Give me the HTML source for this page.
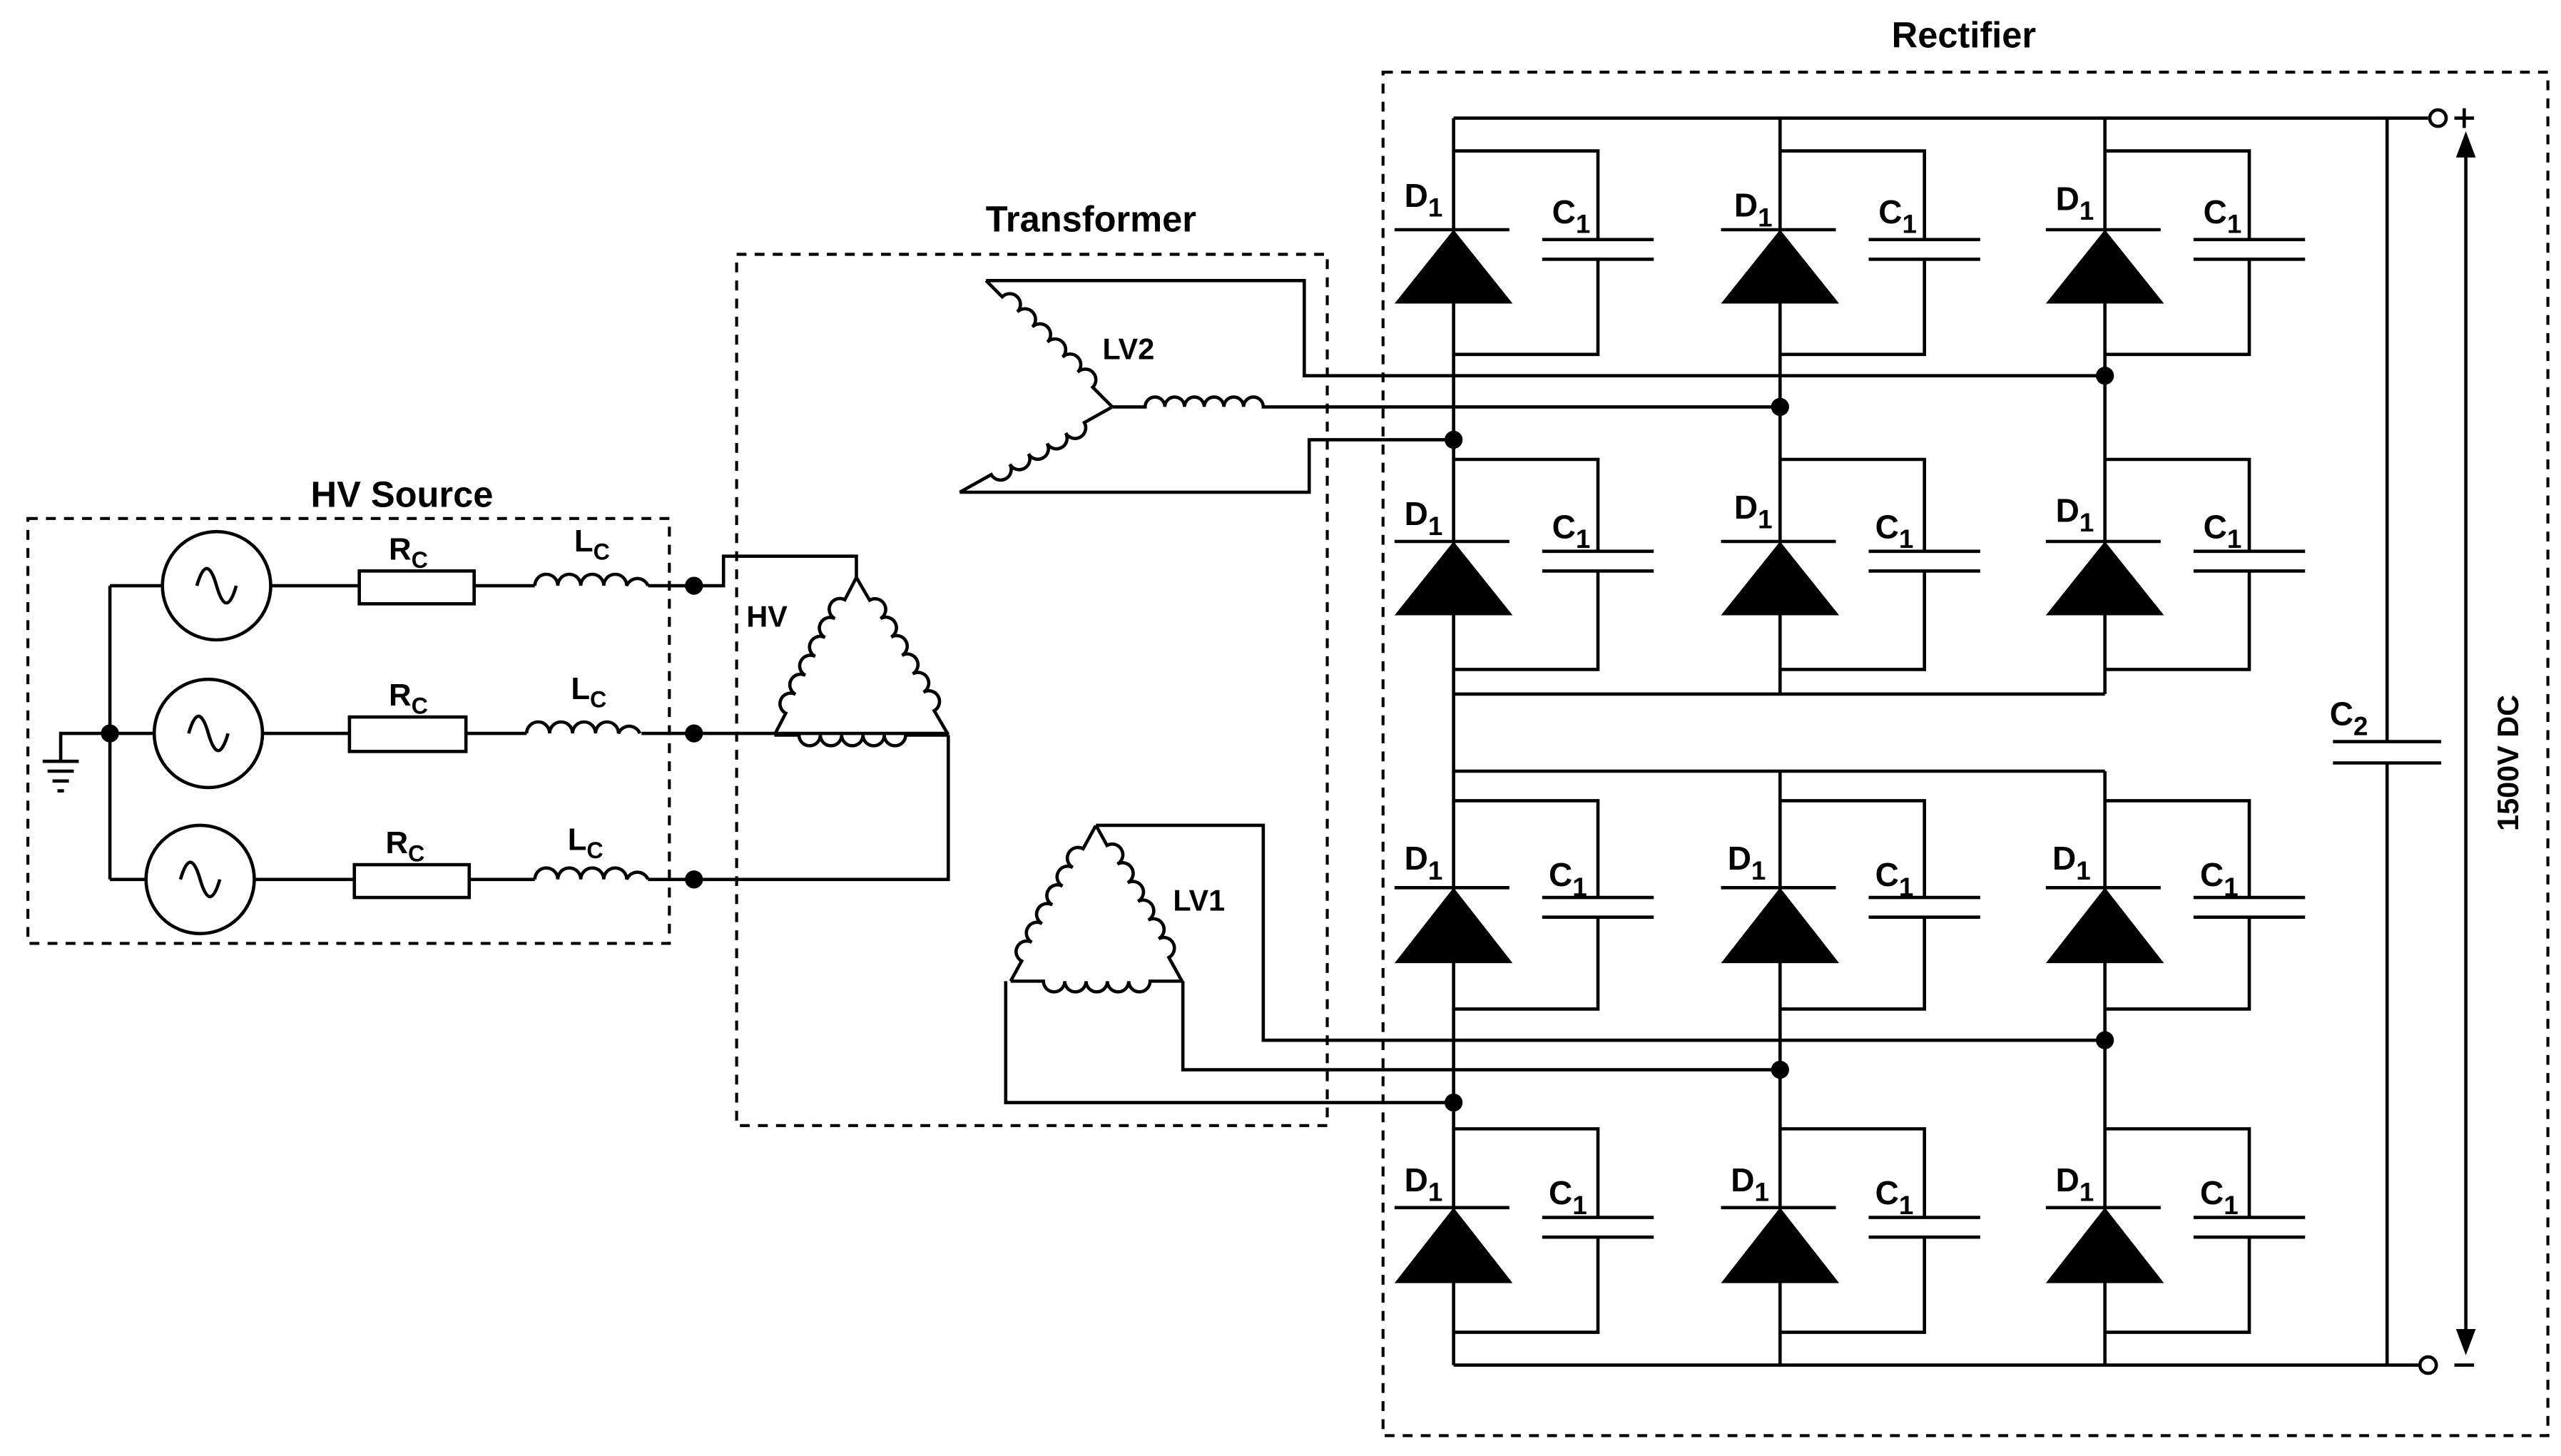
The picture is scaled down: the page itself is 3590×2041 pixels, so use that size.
<!DOCTYPE html>
<html><head><meta charset="utf-8"><style>html,body{margin:0;padding:0;background:#fff}svg{display:block}text{font-family:"Liberation Sans",sans-serif;font-weight:bold;fill:#000}</style></head><body>
<svg width="3590" height="2041" viewBox="0 0 1561 887.4" preserveAspectRatio="none" xmlns="http://www.w3.org/2000/svg">
<g fill="none" stroke="#000" stroke-width="2">
<!-- dashed boxes -->
<g stroke-dasharray="6,5" stroke-width="1.8">
<rect x="17" y="316" width="391" height="259"/>
<rect x="449" y="155" width="360" height="531"/>
<rect x="843" y="44" width="710" height="831"/>
</g>
<!-- HV source -->
<path d="M67 357V536M67 357H99M67 447H94M67 536H89M165 357H219M160 447H213M155 536H216M289 357H326M284 447H321M286 536H326"/>
<path d="M395 357H423M391 447H423M395 536H423"/>
<circle cx="132" cy="357" r="33"/><circle cx="127" cy="447" r="33"/><circle cx="122" cy="536" r="33"/>
<path d="M120 357c4-14 8-14 12 0s8 14 12 0M115 447c4-14 8-14 12 0s8 14 12 0M110 536c4-14 8-14 12 0s8 14 12 0"/>
<rect x="219" y="348" width="70" height="20"/><rect x="213" y="437" width="71" height="21"/><rect x="216" y="527" width="70" height="20"/>
<path d="M326 357a7 7 0 0 1 14 0a7 7 0 0 1 14 0a7 7 0 0 1 14 0a7 7 0 0 1 14 0a7 7 0 0 1 13 0"/>
<path d="M321 447a7 7 0 0 1 14 0a7 7 0 0 1 14 0a7 7 0 0 1 14 0a7 7 0 0 1 14 0a7 7 0 0 1 13 0"/>
<path d="M326 536a7 7 0 0 1 14 0a7 7 0 0 1 14 0a7 7 0 0 1 14 0a7 7 0 0 1 14 0a7 7 0 0 1 13 0"/>
<path d="M67 447H37V464M26 464H48M29 470H45M32 476H42M35 482H39"/>
<!-- HV delta wiring -->
<path d="M423 357H441V339H522V352M423 447H578M578 448V536H423"/>
<g transform="translate(472,448) rotate(-62.5)"><path d="M0 0H15a6.5 6.5 0 0 1 13 0a6.5 6.5 0 0 1 13 0a6.5 6.5 0 0 1 13 0a6.5 6.5 0 0 1 13 0a6.5 6.5 0 0 1 13 0a6.5 6.5 0 0 1 13 0H108"/></g>
<g transform="translate(522,352) rotate(59.7)"><path d="M0 0H16a6.5 6.5 0 0 1 13 0a6.5 6.5 0 0 1 13 0a6.5 6.5 0 0 1 13 0a6.5 6.5 0 0 1 13 0a6.5 6.5 0 0 1 13 0a6.5 6.5 0 0 1 13 0H111"/></g>
<g transform="translate(578,448) rotate(180)"><path d="M0 0H26a6.5 6.5 0 0 1 13 0a6.5 6.5 0 0 1 13 0a6.5 6.5 0 0 1 13 0a6.5 6.5 0 0 1 13 0a6.5 6.5 0 0 1 13 0H106"/></g>
<!-- LV1 delta -->
<g transform="translate(616,598) rotate(-61.3)"><path d="M0 0H14a6.5 6.5 0 0 1 13 0a6.5 6.5 0 0 1 13 0a6.5 6.5 0 0 1 13 0a6.5 6.5 0 0 1 13 0a6.5 6.5 0 0 1 13 0a6.5 6.5 0 0 1 13 0H108"/></g>
<g transform="translate(668,503) rotate(61.1)"><path d="M0 0H14a6.5 6.5 0 0 1 13 0a6.5 6.5 0 0 1 13 0a6.5 6.5 0 0 1 13 0a6.5 6.5 0 0 1 13 0a6.5 6.5 0 0 1 13 0a6.5 6.5 0 0 1 13 0H109"/></g>
<g transform="translate(721,598) rotate(180)"><path d="M0 0H20a6.5 6.5 0 0 1 13 0a6.5 6.5 0 0 1 13 0a6.5 6.5 0 0 1 13 0a6.5 6.5 0 0 1 13 0a6.5 6.5 0 0 1 13 0H105"/></g>
<path d="M668 503H770V634H1283M721 598V652H1085M613 598V672H886"/>
<!-- LV2 star -->
<g transform="translate(601,171) rotate(45)"><path d="M0 0H14a6.5 6.5 0 0 1 13 0a6.5 6.5 0 0 1 13 0a6.5 6.5 0 0 1 13 0a6.5 6.5 0 0 1 13 0a6.5 6.5 0 0 1 13 0a6.5 6.5 0 0 1 13 0H109"/></g>
<g transform="translate(585,300) rotate(-29.2)"><path d="M0 0H22a6.5 6.5 0 0 0 13 0a6.5 6.5 0 0 0 13 0a6.5 6.5 0 0 0 13 0a6.5 6.5 0 0 0 13 0a6.5 6.5 0 0 0 13 0H106"/></g>
<path d="M678 248H698a6 6 0 0 1 12 0a6 6 0 0 1 12 0a6 6 0 0 1 12 0a6 6 0 0 1 12 0a6 6 0 0 1 12 0a6 6 0 0 1 12 0H1085"/>
<path d="M601 171H795V229H1283M585 300H798V268H886"/>
<!-- rectifier rails -->
<path d="M886 72H1480M886 832H1474M886 423H1283M886 470H1283M886 72V832M1085 72V423M1085 470V832M1283 72V423M1283 470V832"/>
<path d="M1455 72V452M1455 465V832M1422 452H1488M1422 465H1488"/>
<path d="M1503 88V818"/>
<circle cx="1486" cy="72" r="5" fill="#fff"/><circle cx="1480" cy="832" r="5" fill="#fff"/>
<path d="M1496 72H1508M1502 66V78M1496 832H1508"/>
</g>
<polygon points="1503,80 1497,96 1509,96"/><polygon points="1503,826 1497,810 1509,810"/>
<!-- dots -->
<g fill="#000">
<circle cx="423" cy="357" r="5.5"/><circle cx="423" cy="447" r="5.5"/><circle cx="423" cy="536" r="5.5"/><circle cx="67" cy="447" r="5.5"/>
<circle cx="886" cy="268" r="5.5"/><circle cx="1085" cy="248" r="5.5"/><circle cx="1283" cy="229" r="5.5"/>
<circle cx="886" cy="672" r="5.5"/><circle cx="1085" cy="652" r="5.5"/><circle cx="1283" cy="634" r="5.5"/>
</g>
<!-- diode/cap cells -->
<g id="cells">
<g transform="translate(886,92)"><path d="M0 0H88V54M88 66V124H0M54 54H122M54 66H122M-36 48H34" fill="none" stroke="#000" stroke-width="2"/><polygon points="0,48 -36,93 36,93"/><text x="-30" y="34" font-size="20">D<tspan font-size="16" dy="6">1</tspan></text><text x="60" y="44" font-size="20">C<tspan font-size="16" dy="6">1</tspan></text></g>
<g transform="translate(1085,92)"><path d="M0 0H88V54M88 66V124H0M54 54H122M54 66H122M-36 48H34" fill="none" stroke="#000" stroke-width="2"/><polygon points="0,48 -36,93 36,93"/><text x="-28" y="40" font-size="20">D<tspan font-size="16" dy="6">1</tspan></text><text x="60" y="44" font-size="20">C<tspan font-size="16" dy="6">1</tspan></text></g>
<g transform="translate(1283,92)"><path d="M0 0H88V54M88 66V124H0M54 54H122M54 66H122M-36 48H34" fill="none" stroke="#000" stroke-width="2"/><polygon points="0,48 -36,93 36,93"/><text x="-30" y="36" font-size="20">D<tspan font-size="16" dy="6">1</tspan></text><text x="60" y="44" font-size="20">C<tspan font-size="16" dy="6">1</tspan></text></g>
<g transform="translate(886,280)"><path d="M0 0H88V56M88 68V128H0M54 56H122M54 68H122M-36 50H34" fill="none" stroke="#000" stroke-width="2"/><polygon points="0,50 -36,95 36,95"/><text x="-30" y="40" font-size="20">D<tspan font-size="16" dy="6">1</tspan></text><text x="60" y="48" font-size="20">C<tspan font-size="16" dy="6">1</tspan></text></g>
<g transform="translate(1085,280)"><path d="M0 0H88V56M88 68V128H0M54 56H122M54 68H122M-36 50H34" fill="none" stroke="#000" stroke-width="2"/><polygon points="0,50 -36,95 36,95"/><text x="-28" y="36" font-size="20">D<tspan font-size="16" dy="6">1</tspan></text><text x="58" y="48" font-size="20">C<tspan font-size="16" dy="6">1</tspan></text></g>
<g transform="translate(1283,280)"><path d="M0 0H88V56M88 68V128H0M54 56H122M54 68H122M-36 50H34" fill="none" stroke="#000" stroke-width="2"/><polygon points="0,50 -36,95 36,95"/><text x="-30" y="38" font-size="20">D<tspan font-size="16" dy="6">1</tspan></text><text x="60" y="48" font-size="20">C<tspan font-size="16" dy="6">1</tspan></text></g>
<g transform="translate(886,488)"><path d="M0 0H88V59M88 71V127H0M54 59H122M54 71H122M-36 53H34" fill="none" stroke="#000" stroke-width="2"/><polygon points="0,53 -36,99 36,99"/><text x="-30" y="42" font-size="20">D<tspan font-size="16" dy="6">1</tspan></text><text x="58" y="52" font-size="20">C<tspan font-size="16" dy="6">1</tspan></text></g>
<g transform="translate(1085,488)"><path d="M0 0H88V59M88 71V127H0M54 59H122M54 71H122M-36 53H34" fill="none" stroke="#000" stroke-width="2"/><polygon points="0,53 -36,99 36,99"/><text x="-32" y="42" font-size="20">D<tspan font-size="16" dy="6">1</tspan></text><text x="58" y="52" font-size="20">C<tspan font-size="16" dy="6">1</tspan></text></g>
<g transform="translate(1283,488)"><path d="M0 0H88V59M88 71V127H0M54 59H122M54 71H122M-36 53H34" fill="none" stroke="#000" stroke-width="2"/><polygon points="0,53 -36,99 36,99"/><text x="-32" y="42" font-size="20">D<tspan font-size="16" dy="6">1</tspan></text><text x="58" y="52" font-size="20">C<tspan font-size="16" dy="6">1</tspan></text></g>
<g transform="translate(886,688)"><path d="M0 0H88V54M88 66V124H0M54 54H122M54 66H122M-36 48H34" fill="none" stroke="#000" stroke-width="2"/><polygon points="0,48 -36,94 36,94"/><text x="-30" y="38" font-size="20">D<tspan font-size="16" dy="6">1</tspan></text><text x="58" y="46" font-size="20">C<tspan font-size="16" dy="6">1</tspan></text></g>
<g transform="translate(1085,688)"><path d="M0 0H88V54M88 66V124H0M54 54H122M54 66H122M-36 48H34" fill="none" stroke="#000" stroke-width="2"/><polygon points="0,48 -36,94 36,94"/><text x="-30" y="38" font-size="20">D<tspan font-size="16" dy="6">1</tspan></text><text x="58" y="46" font-size="20">C<tspan font-size="16" dy="6">1</tspan></text></g>
<g transform="translate(1283,688)"><path d="M0 0H88V54M88 66V124H0M54 54H122M54 66H122M-36 48H34" fill="none" stroke="#000" stroke-width="2"/><polygon points="0,48 -36,94 36,94"/><text x="-30" y="38" font-size="20">D<tspan font-size="16" dy="6">1</tspan></text><text x="58" y="46" font-size="20">C<tspan font-size="16" dy="6">1</tspan></text></g>
</g>
<!-- labels -->
<text x="1197" y="29" font-size="22" text-anchor="middle">Rectifier</text>
<text x="665" y="141" font-size="22" text-anchor="middle">Transformer</text>
<text x="245" y="309" font-size="22" text-anchor="middle">HV Source</text>
<text x="672" y="219" font-size="18">LV2</text>
<text x="715" y="555" font-size="18">LV1</text>
<text x="455" y="382" font-size="18">HV</text>
<text x="237" y="341" font-size="19">R<tspan font-size="14" dy="5">C</tspan></text>
<text x="237" y="430" font-size="19">R<tspan font-size="14" dy="5">C</tspan></text>
<text x="235" y="520" font-size="19">R<tspan font-size="14" dy="5">C</tspan></text>
<text x="350" y="336" font-size="19">L<tspan font-size="14" dy="5">C</tspan></text>
<text x="348" y="426" font-size="19">L<tspan font-size="14" dy="5">C</tspan></text>
<text x="346" y="518" font-size="19">L<tspan font-size="14" dy="5">C</tspan></text>
<text x="1420" y="442" font-size="20">C<tspan font-size="16" dy="6">2</tspan></text>
<text transform="translate(1535,465) rotate(-90)" font-size="18" text-anchor="middle">1500V DC</text>
</svg>
</body></html>
